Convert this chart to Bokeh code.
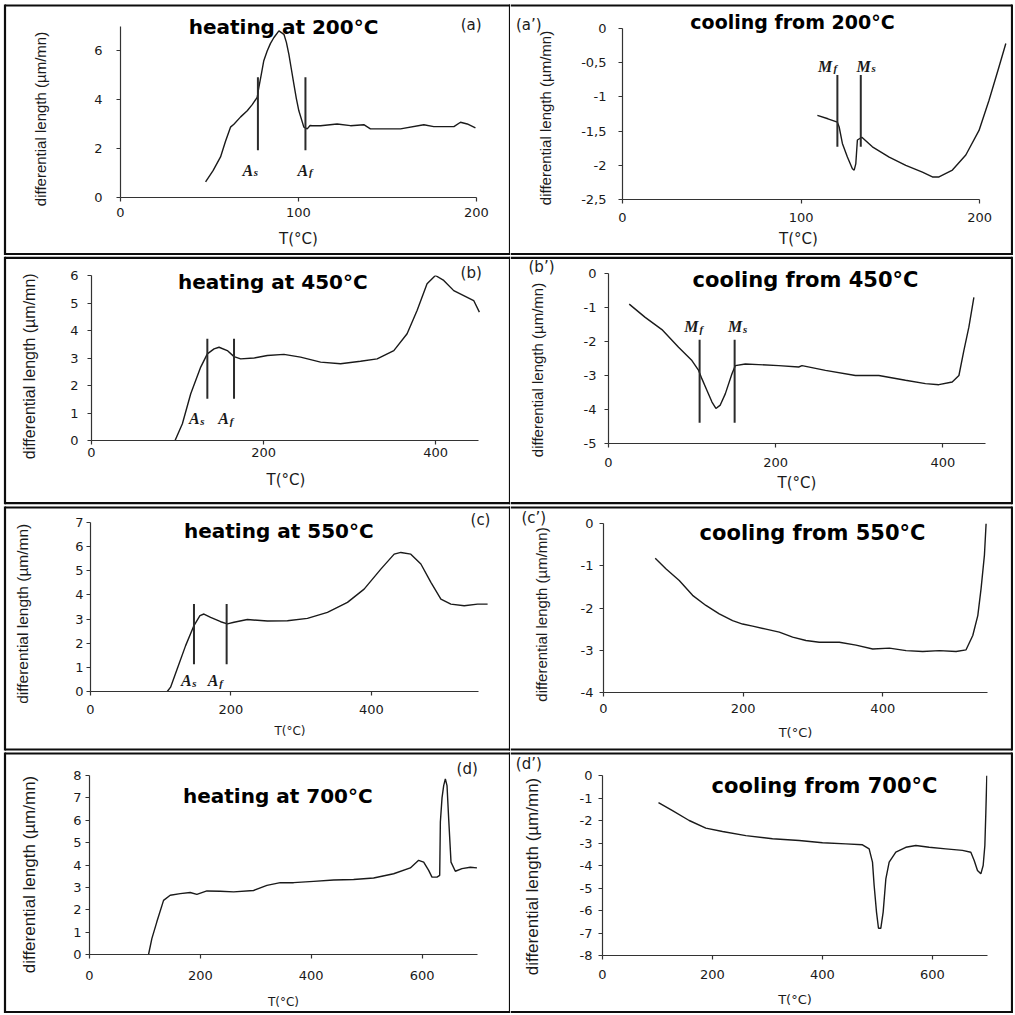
import math
from bokeh.plotting import figure
from bokeh.models import GridBox, Label, FixedTicker, Range1d
from bokeh.embed import file_html
from bokeh.resources import INLINE

# ---------------- data ----------------
# (a) heating at 200 C
ha_T = [47.8, 52, 56.2, 59, 61.8, 63.7, 67.5, 71.2, 74, 76.8, 77.7, 79, 80.5, 82.4, 84.2, 86.1, 89.0,
        91.8, 93.2, 94.6, 96.0, 97.4, 98.8, 100.2, 103.0, 104.9, 106.5, 107.7, 112.4, 121.7, 129.2,
        136.7, 140.4, 157.3, 170.4, 176.0, 187.3, 191.0, 194.8, 199.4]
ha_D = [0.64, 1.1, 1.66, 2.3, 2.88, 3.0, 3.3, 3.55, 3.8, 4.1, 4.5, 5.0, 5.6, 6.0, 6.3, 6.54, 6.82,
        6.68, 6.35, 5.86, 5.25, 4.64, 4.05, 3.55, 2.88, 2.81, 2.95, 2.94, 2.94, 3.01, 2.94,
        2.98, 2.81, 2.81, 2.98, 2.9, 2.9, 3.08, 3.01, 2.85]
# (a') cooling from 200 C
ca_T = [109.1, 115, 120.3, 121.3, 123.1, 125.9, 128.7, 129.7, 130.6, 131.5, 134.0, 139.9, 149.3,
        158.6, 167.9, 173.5, 177.2, 184.7, 192.2, 199.6, 205.2, 210.8, 214.6]
ca_D = [-1.27, -1.32, -1.37, -1.44, -1.68, -1.88, -2.05, -2.07, -1.98, -1.63, -1.59, -1.73, -1.88,
        -2.0, -2.1, -2.17, -2.17, -2.07, -1.85, -1.49, -1.05, -0.56, -0.22]
# (b) heating at 450 C
hb_T = [97.1, 105.6, 115.3, 126.9, 134.6, 142.4, 148.2, 157.8, 165.6, 173.3, 188.8, 204.3, 223.6,
        242.9, 266.2, 289.4, 312.6, 331.9, 351.3, 366.7, 378.3, 389.9, 399.6, 409.3, 420.9, 432.5,
        444.1, 450.7]
hb_D = [0.0, 0.61, 1.7, 2.67, 3.15, 3.33, 3.39, 3.27, 3.05, 2.97, 3.0, 3.09, 3.13,
        3.03, 2.85, 2.79, 2.88, 2.97, 3.27, 3.88, 4.73, 5.7, 6.0, 5.82, 5.45, 5.27,
        5.09, 4.67]
# (b') cooling from 450 C
cb_T = [24.8, 43.9, 63.9, 83.8, 99.8, 107.8, 111.8, 117.8, 123.8, 128.5, 133.7, 139.7, 147.7, 151.7,
        163.7, 179.6, 203.6, 227.5, 231.5, 259.5, 295.4, 323.4, 355.3, 379.2, 395.2, 411.2, 419.2,
        425.1, 431.1, 437.1]
cb_D = [-0.9, -1.29, -1.65, -2.17, -2.56, -2.85, -3.1, -3.44, -3.78, -3.97, -3.87, -3.54, -2.95, -2.71,
        -2.66, -2.68, -2.71, -2.75, -2.71, -2.85, -3.0, -3.0, -3.14, -3.24, -3.27, -3.19, -3.0,
        -2.27, -1.58, -0.7]
# (c) heating at 550 C
hc_T = [109.3, 114.0, 123.5, 135.4, 147.3, 155.8, 161.5, 171.0, 185.3, 194.8, 204.3, 223.3, 251.8,
        280.3, 308.8, 337.3, 365.8, 389.5, 413.3, 432.3, 441.8, 456.0, 470.3, 484.6, 498.8, 513.0,
        532.0, 551.0, 565.3]
hc_D = [0.0, 0.18, 0.94, 1.9, 2.73, 3.14, 3.21, 3.07, 2.89, 2.8, 2.87, 2.98, 2.92,
        2.93, 3.03, 3.28, 3.69, 4.24, 5.07, 5.69, 5.76, 5.69, 5.28, 4.52, 3.83, 3.62,
        3.55, 3.62, 3.62]
# (c') cooling from 550 C
cc_T = [74.1, 89.3, 108.5, 127.6, 146.7, 165.8, 184.9, 199.2, 213.6, 232.7, 251.8, 270.9, 290.0,
        309.1, 337.8, 361.7, 385.6, 409.5, 433.4, 457.2, 481.1, 505.0, 519.3, 528.9, 536.1, 540.8,
        545.6, 548.0]
cc_D = [-0.82, -1.07, -1.35, -1.7, -1.94, -2.14, -2.3, -2.38, -2.43, -2.5, -2.57, -2.69, -2.77,
        -2.81, -2.81, -2.88, -2.97, -2.95, -3.01, -3.03, -3.01, -3.03, -2.99, -2.65, -2.18, -1.54,
        -0.75, 0.0]
# (d) heating at 700 C
hd_T = [106.5, 112.5, 121.5, 133.6, 145.6, 163.7, 181.7, 193.7, 211.8, 235.9, 260.0, 296.0, 320.1,
        344.2, 368.2, 404.3, 440.4, 476.5, 512.6, 548.7, 578.8, 593.8, 602.9, 611.9, 617.9, 626.9,
        631.8, 633.0, 636.0, 639.0, 642.0, 645.0, 648.0, 652.2, 660.0, 672.0, 687.0, 699.0]
hd_D = [0.0, 0.71, 1.46, 2.42, 2.65, 2.72, 2.77, 2.69, 2.84, 2.83, 2.8, 2.86, 3.09,
        3.21, 3.21, 3.27, 3.33, 3.35, 3.42, 3.61, 3.87, 4.21, 4.13, 3.76, 3.46, 3.46,
        3.54, 5.92, 7.0, 7.55, 7.85, 7.55, 6.07, 4.13, 3.72, 3.84, 3.9, 3.87]
# (d') cooling from 700 C
cd_T = [101.8, 127.3, 157.6, 187.9, 218.2, 260.6, 309.1, 357.6, 400.0, 442.4, 472.7, 484.8, 490.9,
        493.9, 498.2, 501.8, 506.0, 510.3, 515.2, 521.2, 533.3, 551.5, 569.7, 593.9, 624.2, 654.5,
        669.7, 675.8, 681.8, 687.9, 692.1, 695.2, 697.0, 698.8]
cd_D = [-1.21, -1.56, -2.0, -2.34, -2.49, -2.67, -2.81, -2.89, -2.99, -3.04, -3.08, -3.26, -3.85,
        -4.89, -6.07, -6.79, -6.79, -6.07, -4.59, -3.85, -3.41, -3.19, -3.11, -3.19, -3.26, -3.33,
        -3.41, -3.78, -4.22, -4.37, -4.0, -3.11, -1.63, 0.0]

# transformation-temperature markers: x positions and (y bottom, y top)
a_marks = [77.2, 103.9];   a_marks_y = (1.93, 4.92)
ap_marks = [120.3, 133.4]; ap_marks_y = (-1.73, -0.68)
b_marks = [134.6, 165.6];  b_marks_y = (1.52, 3.70)
bp_marks = [109.0, 150.9]; bp_marks_y = (-4.39, -1.95)
c_marks = [147.3, 193.8];  c_marks_y = (1.13, 3.62)

# marker labels: (letter, subscript, x of letter, y baseline)
a_lbls = [("A", "s", 71.5, 1.11), ("A", "f", 102.5, 1.11)]
ap_lbls = [("M", "f", 113.5, -0.55), ("M", "s", 135.0, -0.55)]
b_lbls = [("A", "s", 119.5, 0.79), ("A", "f", 153.5, 0.79)]
bp_lbls = [("M", "f", 99.0, -1.56), ("M", "s", 151.5, -1.56)]
c_lbls = [("A", "s", 136.5, 0.45), ("A", "f", 174.5, 0.45)]

titles = ["heating at 200\u00b0C", "cooling from 200\u00b0C", "heating at 450\u00b0C", "cooling from 450\u00b0C",
          "heating at 550\u00b0C", "cooling from 550\u00b0C", "heating at 700\u00b0C", "cooling from 700\u00b0C"]
tags = ["(a)", "(a\u2019)", "(b)", "(b\u2019)", "(c)", "(c\u2019)", "(d)", "(d\u2019)"]
ylabel = "differential length (\u00b5m/mn)"
xlabel = "T(\u00b0C)"

x_ticks_200 = [0, 100, 200]
x_ticks_400 = [0, 200, 400]
x_ticks_600 = [0, 200, 400, 600]
y_ticks_a = [0, 2, 4, 6]
y_ticks_ap = [0, -0.5, -1, -1.5, -2, -2.5]
y_ticks_b = [0, 1, 2, 3, 4, 5, 6]
y_ticks_bp = [0, -1, -2, -3, -4, -5]
y_ticks_c = [0, 1, 2, 3, 4, 5, 6, 7]
y_ticks_cp = [0, -1, -2, -3, -4]
y_ticks_d = [0, 1, 2, 3, 4, 5, 6, 7, 8]
y_ticks_dp = [0, -1, -2, -3, -4, -5, -6, -7, -8]

# ---------------- panel layout (pixels inside each cell) ----------------
rows_h = [255, 250, 246, 262]
cols_w = [510, 503]
row_lines = [(5.0, 253.5), (2.3, 247.7), (2.0, 244.0), (2.0, 260.5)]
col_lines = [(4.5, 509.5), (None, 501.5)]

panels = [
    dict(T=ha_T, D=ha_D, marks=a_marks, marks_y=a_marks_y, lbls=a_lbls,
         bl=120, br=34, bt=26, bb=58, xr=(0, 200), yr=(0, 7), xb=(0, 200),
         xt=x_ticks_200, yt=y_ticks_a, title=(283, 26.7, 20), tag=(470.7, 24),
         ystd=14, ylab=(39.5, 118.5, 15), xstd=6, xlstd=10, xsz=15, xlab=None),
    dict(T=ca_T, D=ca_D, marks=ap_marks, marks_y=ap_marks_y, lbls=ap_lbls,
         bl=112, br=5, bt=28, bb=56, xr=(0, 216.1), yr=(-2.5, 0), xb=(0, 200),
         xt=x_ticks_200, yt=y_ticks_ap, title=(282, 21.7, 19), tag=(18.3, 24),
         ystd=12, ylab=(34.5, 117.5, 15), xstd=9, xlstd=9, xsz=15, xlab=(288, 238)),
    dict(T=hb_T, D=hb_D, marks=b_marks, marks_y=b_marks_y, lbls=b_lbls,
         bl=91, br=30, bt=20, bb=65, xr=(0, 452), yr=(0, 6), xb=(0, 450),
         xt=x_ticks_400, yt=y_ticks_b, title=(272.3, 26.7, 20), tag=(470.7, 17),
         ystd=9, ylab=(28.5, 110.8, 16), xstd=3, xlstd=11, xsz=15, xlab=None),
    dict(T=cb_T, D=cb_D, marks=bp_marks, marks_y=bp_marks_y, lbls=bp_lbls,
         bl=98, br=28, bt=18, bb=62, xr=(0, 451), yr=(-5, 0), xb=(0, 451),
         xt=x_ticks_400, yt=y_ticks_bp, title=(295, 24.3, 21), tag=(31, 11),
         ystd=8, ylab=(26.5, 114.5, 15), xstd=10, xlstd=4, xsz=15, xlab=None),
    dict(T=hc_T, D=hc_D, marks=c_marks, marks_y=c_marks_y, lbls=c_lbls,
         bl=90, br=21, bt=17, bb=60, xr=(0, 568), yr=(0, 7), xb=(0, 552),
         xt=x_ticks_400, yt=y_ticks_c, title=(278.3, 25, 20), tag=(480, 14),
         ystd=3, ylab=(21.5, 108.3, 15.5), xstd=9, xlstd=7, xsz=12, xlab=None),
    dict(T=cc_T, D=cc_D, marks=[], marks_y=None, lbls=[],
         bl=93, br=26, bt=18, bb=59, xr=(0, 550), yr=(-4, 0), xb=(0, 550),
         xt=x_ticks_400, yt=y_ticks_cp, title=(302, 27.3, 21), tag=(23.3, 12),
         ystd=6, ylab=(30.5, 109, 15), xstd=7, xlstd=9, xsz=13, xlab=None),
    dict(T=hd_T, D=hd_D, marks=[], marks_y=None, lbls=[],
         bl=89, br=33, bt=24, bb=59, xr=(0, 700), yr=(0, 8), xb=(0, 700),
         xt=x_ticks_600, yt=y_ticks_d, title=(277.3, 44, 20), tag=(466.7, 17),
         ystd=4, ylab=(28.5, 123, 17), xstd=12, xlstd=12, xsz=12, xlab=None),
    dict(T=cd_T, D=cd_D, marks=[], marks_y=None, lbls=[],
         bl=92, br=26, bt=24, bb=58, xr=(0, 700), yr=(-8, 0), xb=(0, 700),
         xt=x_ticks_600, yt=y_ticks_dp, title=(314, 34, 21), tag=(18.3, 12),
         ystd=6, ylab=(21.5, 125, 17), xstd=10, xlstd=10, xsz=13, xlab=None),
]

INK = "#1a1a1a"
AX = "#333333"


def fmt(v):
    return ("%g" % v).replace(".", ",")


def make_background(i, c, W, H, r, col):
    """Cell-sized canvas (pixel coordinates, y up) carrying the table frame and panel texts."""
    b = figure(width=W, height=H, output_backend="svg", toolbar_location=None, tools="",
               x_range=Range1d(0, W), y_range=Range1d(0, H),
               x_axis_location=None, y_axis_location=None, frame_align=False,
               min_border_left=0, min_border_right=0, min_border_top=0, min_border_bottom=0)
    b.xgrid.visible = False
    b.ygrid.visible = False
    b.outline_line_color = None
    b.background_fill_color = "white"
    b.border_fill_color = "white"
    top, bot = row_lines[r]
    lft, rgt = col_lines[col]
    x0 = lft if lft is not None else 0
    xs0 = [x0, x0, rgt]
    xs1 = [rgt, rgt, rgt]
    ys0 = [H - top, H - bot, H - top + 1]
    ys1 = [H - top, H - bot, H - bot - 1]
    if lft is not None:
        xs0.append(lft); xs1.append(lft); ys0.append(H - top + 1); ys1.append(H - bot - 1)
    b.segment(x0=xs0, y0=ys0, x1=xs1, y1=ys1, line_color="#0d0d0d", line_width=2.2)

    tx, ty, tsz = c["title"]
    b.add_layout(Label(x=tx, y=H - ty, text=titles[i], text_align="center",
                       text_baseline="alphabetic", text_font="DejaVu Sans",
                       text_font_style="bold", text_font_size="%dpx" % tsz, text_color="black"))
    gx, gy = c["tag"]
    b.add_layout(Label(x=gx, y=H - gy, text=tags[i], text_align="center",
                       text_baseline="alphabetic", text_font="DejaVu Sans",
                       text_font_size="15px", text_color=INK))
    lx, ly, lsz = c["ylab"]
    b.add_layout(Label(x=lx, y=H - ly, text=ylabel, angle=math.pi / 2, text_align="center",
                       text_baseline="middle", text_font="Liberation Sans",
                       text_font_size="%.1fpx" % lsz, text_color=INK))
    if c["xlab"] is not None:
        lx, ly = c["xlab"]
        b.add_layout(Label(x=lx, y=H - ly, text=xlabel, text_align="center",
                           text_baseline="middle", text_font="DejaVu Sans",
                           text_font_size="%dpx" % c["xsz"], text_color=INK))
    return b


def make_panel(i, c, W, H):
    p = figure(width=W, height=H, output_backend="svg", toolbar_location=None, tools="",
               x_range=Range1d(*c["xr"]), y_range=Range1d(*c["yr"]), frame_align=False,
               min_border_left=c["bl"], min_border_right=c["br"],
               min_border_top=c["bt"], min_border_bottom=c["bb"])
    p.xgrid.visible = False
    p.ygrid.visible = False
    p.outline_line_color = None
    p.background_fill_alpha = 0
    p.border_fill_alpha = 0

    for ax in (p.xaxis[0], p.yaxis[0]):
        ax.axis_line_color = AX
        ax.axis_line_width = 1.2
        ax.major_tick_line_color = AX
        ax.major_tick_line_width = 1.2
        ax.major_tick_in = 0
        ax.major_tick_out = 4
        ax.minor_tick_in = 0
        ax.minor_tick_out = 0
        ax.major_label_text_font = "DejaVu Sans"
        ax.major_label_text_font_size = "13px"
        ax.major_label_text_color = INK
        ax.axis_label_text_font_style = "normal"
        ax.axis_label_text_color = INK

    xa = p.xaxis[0]
    xa.ticker = FixedTicker(ticks=c["xt"])
    xa.bounds = c["xb"]
    xa.major_label_standoff = c["xstd"]
    if c["xlab"] is None:
        xa.axis_label = xlabel
        xa.axis_label_text_font = "DejaVu Sans"
        xa.axis_label_text_font_size = "%dpx" % c["xsz"]
        xa.axis_label_standoff = c["xlstd"]

    ya = p.yaxis[0]
    ya.ticker = FixedTicker(ticks=c["yt"])
    ya.major_label_overrides = {v: fmt(v) for v in c["yt"]}
    ya.major_label_standoff = c["ystd"]

    p.line(c["T"], c["D"], line_color=INK, line_width=1.4)

    if c["marks"]:
        y0, y1 = c["marks_y"]
        n = len(c["marks"])
        p.segment(x0=c["marks"], y0=[y0] * n, x1=c["marks"], y1=[y1] * n,
                  line_color="#2b2b2b", line_width=2)
    for (big, sub, xl, yb_) in c["lbls"]:
        off = 10 if big == "M" else 8
        p.add_layout(Label(x=xl, y=yb_, text=big, text_align="center", text_baseline="alphabetic",
                           text_font="Liberation Serif", text_font_style="bold italic",
                           text_font_size="16px", text_color=INK))
        p.add_layout(Label(x=xl, y=yb_, x_offset=off, y_offset=-2, text=sub, text_align="center",
                           text_baseline="alphabetic", text_font="Liberation Serif",
                           text_font_style="bold italic", text_font_size="11px", text_color=INK))
    return p


children = []
for i, c in enumerate(panels):
    r, col = i // 2, i % 2
    W, H = cols_w[col], rows_h[r]
    children.append((make_background(i, c, W, H, r, col), r, col))
    children.append((make_panel(i, c, W, H), r, col))

grid = GridBox(children=children, spacing=0)

open("out.html", "w").write(file_html(grid, INLINE, title="dilatometry"))
